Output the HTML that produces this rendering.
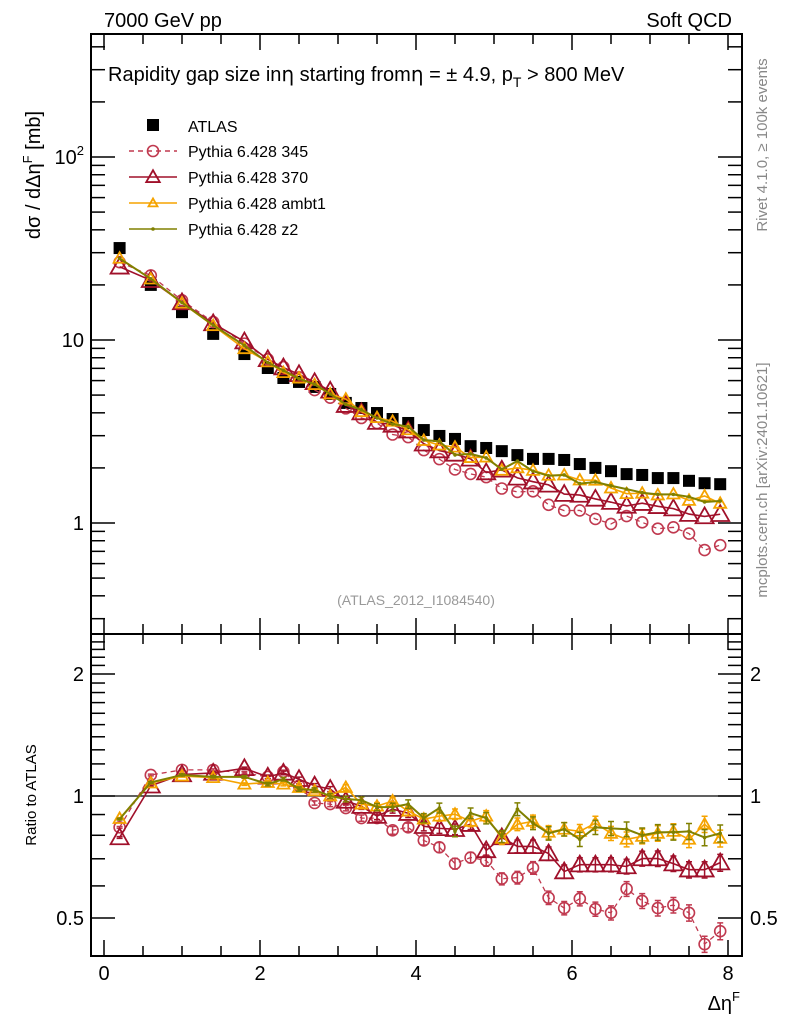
<!DOCTYPE html>
<html><head><meta charset="utf-8"><style>
html,body{margin:0;padding:0;background:#fff;}
svg{display:block;font-family:"Liberation Sans",sans-serif;}
</style></head><body>
<svg id="chart" width="786" height="1024" viewBox="0 0 786 1024" xmlns="http://www.w3.org/2000/svg">
<g id="main"></g>
<g id="ratio"></g>
<g id="labels">
<text x="104" y="27" font-size="20">7000 GeV pp</text>
<text x="732" y="27" font-size="20" text-anchor="end">Soft QCD</text>
<text x="108" y="81" font-size="20">Rapidity gap size in<tspan font-family="DejaVu Sans">η</tspan> starting from<tspan font-family="DejaVu Sans">η</tspan> = ± 4.9, p<tspan font-size="14" dy="6">T</tspan><tspan dy="-6"> &gt; 800 MeV</tspan></text>
<text transform="translate(40,175) rotate(-90)" font-size="20" text-anchor="middle">dσ / dΔη<tspan font-size="13" dy="-8">F</tspan><tspan dy="8"> [mb]</tspan></text>
<text transform="translate(36,795) rotate(-90)" font-size="15" text-anchor="middle">Ratio to ATLAS</text>
<text x="740" y="1010" font-size="20" text-anchor="end">Δη<tspan font-size="13" dy="-9">F</tspan></text>
<text transform="translate(767,145) rotate(-90)" font-size="15" fill="#888" text-anchor="middle">Rivet 4.1.0, ≥ 100k events</text>
<text transform="translate(767,480) rotate(-90)" font-size="15" fill="#888" text-anchor="middle">mcplots.cern.ch [arXiv:2401.10621]</text>
<text x="416" y="605" font-size="14" fill="#999" text-anchor="middle">(ATLAS_2012_I1084540)</text>
</g>
</svg>
<script>
const xs = [0.2,0.6,1.0,1.4,1.8,2.1,2.3,2.5,2.7,2.9,3.1,3.3,3.5,3.7,3.9,4.1,4.3,4.5,4.7,4.9,5.1,5.3,5.5,5.7,5.9,6.1,6.3,6.5,6.7,6.9,7.1,7.3,7.5,7.7,7.9];
const atlas = [31.8,20.0,14.2,10.8,8.38,7.03,6.2,5.9,5.54,5.07,4.53,4.25,3.99,3.70,3.52,3.22,2.99,2.88,2.63,2.57,2.47,2.35,2.24,2.24,2.21,2.10,2.0,1.92,1.85,1.83,1.76,1.76,1.70,1.65,1.63];
const r345 = [0.837,1.127,1.16,1.16,1.14,1.115,1.147,1.06,0.961,0.955,0.934,0.882,0.882,0.823,0.837,0.777,0.747,0.681,0.705,0.693,0.625,0.629,0.665,0.561,0.529,0.558,0.526,0.515,0.590,0.551,0.529,0.538,0.515,0.431,0.464];
const r370 = [0.79,1.06,1.13,1.14,1.17,1.115,1.14,1.10,1.06,1.04,0.972,0.944,0.892,0.928,0.907,0.842,0.832,0.828,0.852,0.734,0.79,0.751,0.751,0.721,0.651,0.677,0.677,0.677,0.67,0.701,0.701,0.681,0.658,0.658,0.685];
const rAmbt1 = [0.88,1.077,1.12,1.11,1.07,1.08,1.07,1.05,1.03,1.0,1.05,0.955,0.944,0.972,0.918,0.877,0.892,0.902,0.866,0.892,0.786,0.852,0.866,0.814,0.828,0.818,0.857,0.809,0.782,0.795,0.809,0.818,0.782,0.852,0.786];
const rZ2 = [0.877,1.08,1.127,1.115,1.115,1.07,1.10,1.04,1.035,1.0,0.983,0.977,0.939,0.939,0.955,0.882,0.934,0.818,0.907,0.882,0.795,0.928,0.857,0.809,0.828,0.782,0.837,0.832,0.828,0.80,0.814,0.814,0.818,0.79,0.809];
const relErr = [0.005,0.005,0.006,0.006,0.007,0.01,0.01,0.012,0.012,0.014,0.016,0.018,0.02,0.022,0.024,0.026,0.028,0.03,0.03,0.032,0.034,0.036,0.036,0.038,0.038,0.04,0.04,0.04,0.042,0.042,0.044,0.044,0.046,0.046,0.048];
const xTicks = [0,2,4,6,8];
const mainTicks = [["1",1],["10",10]];
const ratioTicks = [["0.5",0.5],["1",1],["2",2]];

const NS="http://www.w3.org/2000/svg";
const L=91,R=742,T=34,MB=634,RB=956;
const X=v=>104+78*v;
const YM=v=>523-183*Math.log10(v);
const YR=v=>796-122*Math.log2(v);
function mk(p,tag,a){const e=document.createElementNS(NS,tag);for(const k in a)e.setAttribute(k,a[k]);p.appendChild(e);return e;}
const main=document.getElementById('main'), ratio=document.getElementById('ratio');

function frame(g,top,bot,Y,lo,hi,isLog10,labels,name){
  const f=mk(g,'rect',{x:L,y:top,width:R-L,height:bot-top,fill:'none',stroke:'#000','stroke-width':2});
  
  
  // x ticks
  for(let v=0;v<=8.01;v+=0.5){const big=Math.abs(v-Math.round(v/2)*2)<1e-6;const len=big?16:10;
    mk(g,'line',{x1:X(v),x2:X(v),y1:bot,y2:bot-len,stroke:'#000','stroke-width':1.5});
    mk(g,'line',{x1:X(v),x2:X(v),y1:top,y2:top+len,stroke:'#000','stroke-width':1.5});}
  // y minor ticks
  let vals=[];
  if(isLog10){for(let d=-1;d<3;d++)for(let m=1;m<10;m++)vals.push(m*Math.pow(10,d));}
  else{for(let v=0.3;v<=2.6;v+=0.1)vals.push(+v.toFixed(2));}
  vals.forEach(v=>{const y=Y(v);if(y<top+1||y>bot-1)return;
    const major=isLog10?Math.abs(Math.log10(v)-Math.round(Math.log10(v)))<1e-6:[0.5,1,2].includes(v);
    const len=major?24:14;
    mk(g,'line',{x1:L,x2:L+len,y1:y,y2:y,stroke:'#000','stroke-width':1.5});
    mk(g,'line',{x1:R,x2:R-len,y1:y,y2:y,stroke:'#000','stroke-width':1.5});});
}
frame(main,T,MB,YM,0.25,464,true,mainTicks,'main');
frame(ratio,MB,RB,YR,0.4,2.5,false,ratioTicks,'ratio');
// tick labels
mainTicks.forEach(t=>{const e=mk(main,'text',{x:84,y:YM(t[1])+7,'font-size':20,'text-anchor':'end'});e.textContent=t[0];
  
  });
{const e=mk(main,'text',{x:84,y:YM(100)+7,'font-size':20,'text-anchor':'end'});e.innerHTML='10<tspan font-size="13" dy="-9">2</tspan>';
  
  }
ratioTicks.forEach(t=>{[[84,'end'],[750,'start']].forEach(p=>{const e=mk(ratio,'text',{x:p[0],y:YR(t[1])+7,'font-size':20,'text-anchor':p[1]});e.textContent=t[0];
  
  });});
xTicks.forEach(v=>{const e=mk(ratio,'text',{x:X(v),y:980,'font-size':20,'text-anchor':'middle'});e.textContent=v;
  
  });
mk(ratio,'line',{x1:L,x2:R,y1:YR(1),y2:YR(1),stroke:'#000','stroke-width':1.3});

const series=[
 {name:'pythia-345',r:r345,c:'#c0394f',dash:'5,4',m:'circle',w:1.3},
 {name:'pythia-370',r:r370,c:'#a0102a',dash:'',m:'tri',s:9,w:1.6},
 {name:'pythia-ambt1',r:rAmbt1,c:'#f5a300',dash:'',m:'tri',s:6,w:1.6},
 {name:'pythia-z2',r:rZ2,c:'#808000',dash:'',m:'dot',w:2}
];
function marker(g,s,x,y,name){
  let e;
  if(s.m==='circle')e=mk(g,'circle',{cx:x,cy:y,r:5.5,fill:'none',stroke:s.c,'stroke-width':1.6});
  else if(s.m==='tri'){const a=s.s;e=mk(g,'polygon',{points:`${x},${y-a} ${x-a},${y+a*0.75} ${x+a},${y+a*0.75}`,fill:'none',stroke:s.c,'stroke-width':1.8});}
  else e=mk(g,'circle',{cx:x,cy:y,r:1.8,fill:s.c});
  
  
}
function draw(g,Y,vals,useRatio){
  series.forEach(s=>{
    const ys=xs.map((x,i)=>useRatio?s.r[i]:s.r[i]*atlas[i]);
    const pl=mk(g,'polyline',{points:xs.map((x,i)=>X(x)+','+Y(ys[i])).join(' '),fill:'none',stroke:s.c,'stroke-width':s.w,'stroke-dasharray':s.dash});
    
    
    xs.forEach((x,i)=>{
      if(useRatio){const e=relErr[i]*ys[i];
        const eb=mk(g,'path',{d:`M${X(x)},${Y(ys[i]+e)}V${Y(ys[i]-e)}M${X(x)-3},${Y(ys[i]+e)}h6M${X(x)-3},${Y(ys[i]-e)}h6`,stroke:s.c,'stroke-width':1.5,fill:'none'});
        
        }
      marker(g,s,X(x),Y(ys[i]),s.name+'-point');
    });
  });
}
xs.forEach((x,i)=>{const e=mk(main,'rect',{x:X(x)-6,y:YM(atlas[i])-6,width:12,height:12,fill:'#000'});
  
  });
draw(main,YM,null,false);
draw(ratio,YR,null,true);

// legend
const lg=mk(main,'g',{});


const lx1=129,lx2=177,lxm=153;
{const e=mk(lg,'rect',{x:lxm-6,y:119,width:12,height:12,fill:'#000'});
  
  
 const t=mk(lg,'text',{x:188,y:132,'font-size':16});t.textContent='ATLAS';
  
  }
const labs=['Pythia 6.428 345','Pythia 6.428 370','Pythia 6.428 ambt1','Pythia 6.428 z2'];
series.forEach((s,k)=>{const y=151+k*26;
  const l=mk(lg,'line',{x1:lx1,x2:lx2,y1:y,y2:y,stroke:s.c,'stroke-width':1.5,'stroke-dasharray':s.dash});
  
  
  marker(lg,s.m==='tri'?{...s,s:s.s*0.75}:s,lxm,y,'legend-marker');
  const t=mk(lg,'text',{x:188,y:y+6,'font-size':16});t.textContent=labs[k];
  
  
});
</script>
</body></html>
